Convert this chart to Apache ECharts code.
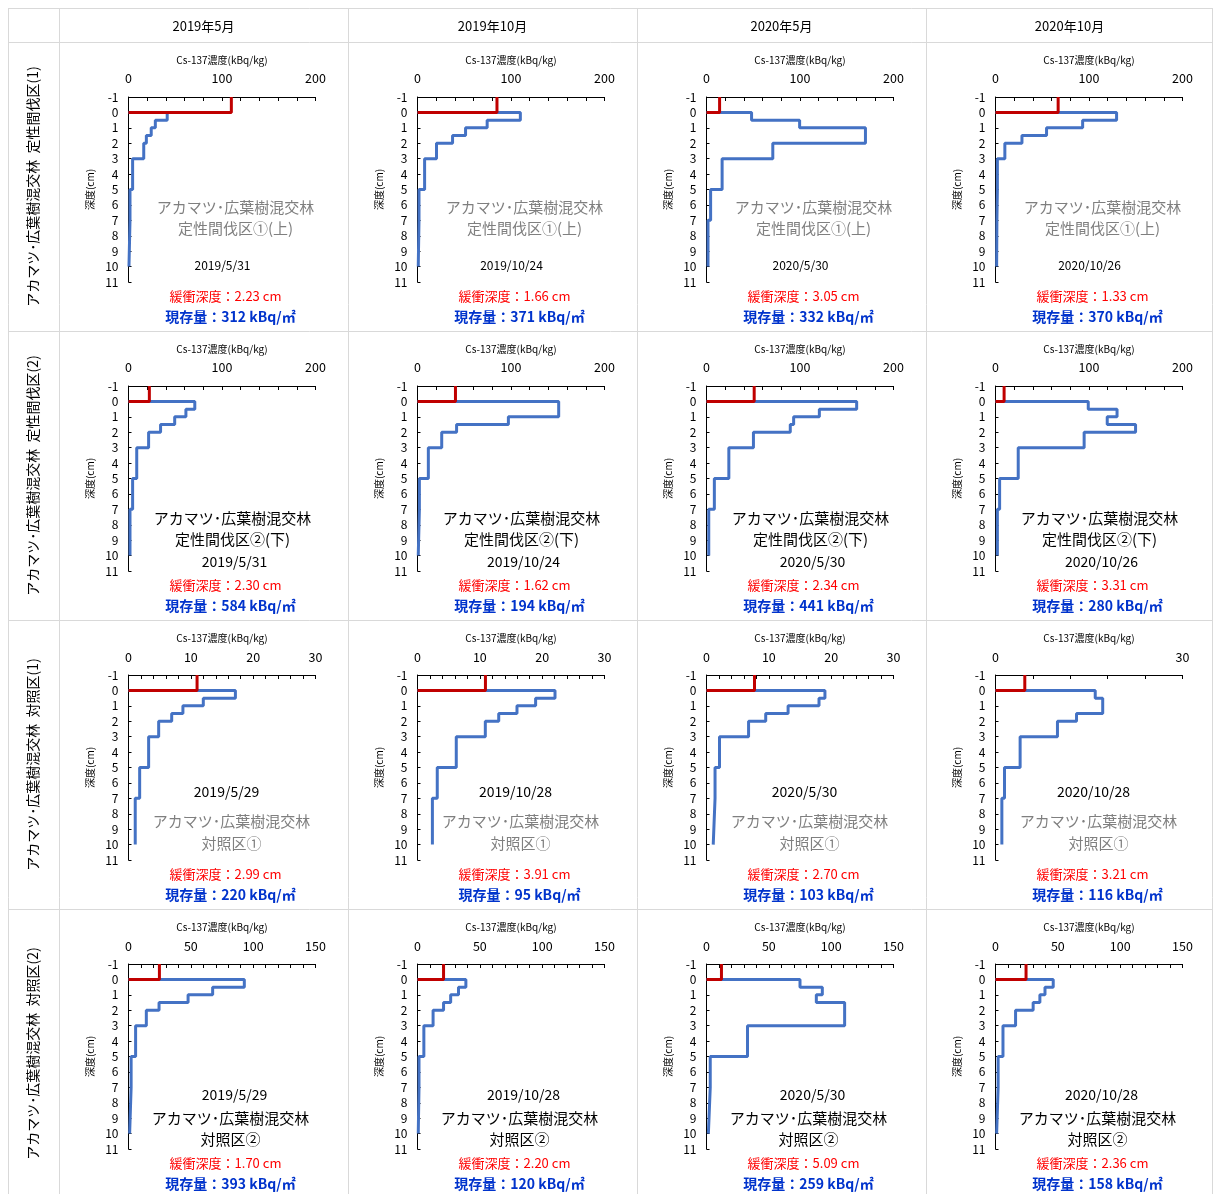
<!DOCTYPE html>
<html>
<head>
<meta charset="utf-8">
<script src="https://cdn.jsdelivr.net/npm/echarts@6/dist/echarts.min.js"></script>
<style>
html,body{margin:0;padding:0;background:#fff;}
#chart{width:1213px;height:1194px;}
</style>
</head>
<body>
<div id="chart"></div>
<script>
// ---------------- DATA ----------------
const columnHeaders = ['2019年5月', '2019年10月', '2020年5月', '2020年10月'];
const rowLabels = [
  'アカマツ･広葉樹混交林  定性間伐区(1)',
  'アカマツ･広葉樹混交林  定性間伐区(2)',
  'アカマツ･広葉樹混交林  対照区(1)',
  'アカマツ･広葉樹混交林  対照区(2)'
];
const siteLine1 = ['アカマツ･広葉樹混交林', 'アカマツ･広葉樹混交林', 'アカマツ･広葉樹混交林', 'アカマツ･広葉樹混交林'];
const siteLine2 = ['定性間伐区①(上)', '定性間伐区②(下)', '対照区①', '対照区②'];
const sampleDates = [
  ['2019/5/31', '2019/10/24', '2020/5/30', '2020/10/26'],
  ['2019/5/31', '2019/10/24', '2020/5/30', '2020/10/26'],
  ['2019/5/29', '2019/10/28', '2020/5/30', '2020/10/28'],
  ['2019/5/29', '2019/10/28', '2020/5/30', '2020/10/28']
];
const xAxisMax = [200, 200, 30, 150];
const xLabelStep = [
  [100, 100, 100, 100],
  [100, 100, 100, 100],
  [10, 10, 10, 30],
  [50, 50, 50, 50]
];
const xAxisTitle = 'Cs-137濃度(kBq/kg)';
const yAxisTitle = '深度(cm)';
const yMin = -1, yMax = 11;
// layer boundaries (cm)
const depthBounds = [0, 0.5, 1, 1.5, 2, 3, 5, 7, 10];
// litter / surface (red) concentration, kBq/kg
const litterRow1 = [110, 85, 14, 67];
const litterRow2 = [22.3, 40.6, 51, 9.2];
const litterRow3 = [11.0, 10.9, 7.7, 4.7];
const litterRow4 = [24.8, 20.9, 12.0, 24.5];
// soil layer concentration (blue) per layer 0-0.5,0.5-1,1-1.5,1.5-2,2-3,3-5,5-7,7-10
const soilRow1 = [
  [41.4, 28.7, 24.3, 19.1, 16.3, 4.4, 1.6, 0.5],
  [110, 74.5, 51.4, 37.5, 20.3, 7.6, 1.6, 0.8],
  [48.2, 99.6, 170, 170, 70.9, 16.7, 4.4, 1.6],
  [129.5, 93.2, 54.6, 28.3, 10, 2, 1.5, 1.2]
];
const soilRow2 = [
  [70.9, 61.4, 49.4, 34.3, 21.5, 8.8, 4.4, 1.6],
  [151, 151, 97.2, 41.8, 25.9, 11.6, 2, 0.8],
  [160.6, 120.7, 93.2, 89.6, 50.2, 23.9, 8.4, 2.4],
  [99.2, 130, 119.5, 149.8, 94.8, 24.3, 4.4, 2]
];
const soilRow3 = [
  [17.15, 12.0, 8.73, 6.93, 4.84, 3.23, 1.79, 1.08],
  [22.06, 18.95, 15.96, 13.03, 10.88, 6.22, 3.17, 2.39],
  [19.0, 18.05, 13.09, 9.5, 6.75, 2.09, 1.37, 1.08],
  [16.0, 17.2, 17.2, 13.0, 9.94, 3.95, 1.44, 1.02]
];
const soilRow4 = [
  [92.9, 67.5, 47.8, 24.5, 14.3, 5.7, 2.1, 0.9],
  [38.8, 32.9, 26.6, 20.9, 12.5, 5.1, 1.2, 0.6],
  [75.0, 92.9, 88.1, 110.8, 110.8, 32.9, 3.0, 1.5],
  [46.3, 39.7, 35.6, 30.2, 16.1, 6.0, 2.1, 0.9]
];
const bufferDepth = [
  ['2.23', '1.66', '3.05', '1.33'],
  ['2.30', '1.62', '2.34', '3.31'],
  ['2.99', '3.91', '2.70', '3.21'],
  ['1.70', '2.20', '5.09', '2.36']
];
const inventory = [
  [312, 371, 332, 370],
  [584, 194, 441, 280],
  [220, 95, 103, 116],
  [393, 120, 259, 158]
];

const litterRows = [litterRow1, litterRow2, litterRow3, litterRow4];
const soilRows = [soilRow1, soilRow2, soilRow3, soilRow4];

// ---------------- LAYOUT ----------------
const FONT = '"Noto Sans CJK JP", "Noto Sans", sans-serif';
const colLefts = [59, 348, 637, 926];
const rowTops = [42, 331, 620, 909];
const tableRight = 1213, tableTop = 8, tableLeft = 8, headerBottom = 42;
const plotW = 187, plotH = 185;

// per-row text placement (relative to plot origin)
const nameDx = [107, 104, 103, 102];
const nameDy = [[110, 131], [132, 153], [146, 168], [154, 175]];
const nameColor = ['#7f7f7f', '#000', '#7f7f7f', '#000'];
const dateDx = [94, 106, 98, 106];
const dateDy = [168, 176, 117, 131];
const dateSize = [12, 14, 14, 14];

const grids = [], xAxes = [], yAxes = [], series = [], graphics = [];

// table lines
const lc = '#d9d9d9';
function hline(y, x1, x2) { graphics.push({type: 'line', shape: {x1: x1, y1: y, x2: x2, y2: y}, style: {stroke: lc, lineWidth: 1}, silent: true}); }
function vline(x, y1, y2) { graphics.push({type: 'line', shape: {x1: x, y1: y1, x2: x, y2: y2}, style: {stroke: lc, lineWidth: 1}, silent: true}); }
hline(tableTop + 0.5, tableLeft, tableRight);
hline(headerBottom + 0.5, tableLeft, tableRight);
rowTops.slice(1).forEach(y => hline(y + 0.5, tableLeft, tableRight));
vline(tableLeft + 0.5, tableTop, 1194);
colLefts.forEach(x => vline(x + 0.5, tableTop, 1194));
vline(tableRight - 0.5, tableTop, 1194);

function txt(x, y, text, size, color, extra) {
  graphics.push(Object.assign({
    type: 'text', x: x, y: y, silent: true,
    style: {text: text, font: (extra && extra.bold ? 'bold ' : '') + size + 'px ' + FONT,
      fill: color, textAlign: 'center', textVerticalAlign: 'middle'}
  }, extra && extra.rotation ? {rotation: extra.rotation} : {}));
}

columnHeaders.forEach((h, c) => {
  const right = c < 3 ? colLefts[c + 1] : tableRight;
  txt((colLefts[c] + right) / 2, 26, h, 13, '#000');
});
rowLabels.forEach((t, r) => {
  txt(33, (rowTops[r] + (r < 3 ? rowTops[r + 1] : 1198)) / 2, t, 14, '#000', {rotation: Math.PI / 2});
});

let idx = 0;
for (let r = 0; r < 4; r++) {
  for (let c = 0; c < 4; c++) {
    const gx = colLefts[c] + 69.5;
    const gy = rowTops[r] + 55;
    const step = xLabelStep[r][c];
    grids.push({left: gx, top: gy, width: plotW, height: plotH, containLabel: false});
    xAxes.push({
      gridIndex: idx, type: 'value', position: 'top', min: 0, max: xAxisMax[r],
      interval: step / 5,
      name: xAxisTitle, nameLocation: 'middle', nameGap: 37,
      nameTextStyle: {fontSize: 10, color: '#000', fontFamily: FONT, verticalAlign: 'middle'},
      axisLine: {show: true, onZero: false, lineStyle: {color: '#000', width: 1}},
      axisTick: {show: true, inside: true, length: 4, lineStyle: {color: '#000', width: 1}},
      axisLabel: {
        fontSize: 12.5, color: '#000', fontFamily: FONT, margin: 12,
        formatter: function (v) {
          const q = v / step;
          return Math.abs(q - Math.round(q)) < 1e-6 ? String(Math.round(v)) : '';
        }
      },
      splitLine: {show: false}
    });
    yAxes.push({
      gridIndex: idx, type: 'value', inverse: true, min: yMin, max: yMax, interval: 1,
      name: yAxisTitle, nameLocation: 'middle', nameGap: 38, nameRotate: 90,
      nameTextStyle: {fontSize: 10, color: '#000', fontFamily: FONT, verticalAlign: 'middle'},
      axisLine: {show: true, onZero: false, lineStyle: {color: '#000', width: 1}},
      axisTick: {show: true, inside: true, length: 3, lineStyle: {color: '#000'}},
      axisLabel: {fontSize: 12, color: '#000', fontFamily: FONT, margin: 10},
      splitLine: {show: false}
    });
    // blue step profile
    const vals = soilRows[r][c];
    const pts = [[0, depthBounds[0]]];
    vals.forEach((v, i) => { pts.push([v, depthBounds[i]]); pts.push([v, depthBounds[i + 1]]); });
    series.push({
      type: 'line', xAxisIndex: idx, yAxisIndex: idx, data: pts, showSymbol: false, symbol: 'none',
      lineStyle: {color: '#4472C4', width: 3}, z: 2, animation: false, silent: true
    });
    const lv = litterRows[r][c];
    series.push({
      type: 'line', xAxisIndex: idx, yAxisIndex: idx, data: [[lv, -1], [lv, 0], [0, 0]],
      showSymbol: false, symbol: 'none',
      lineStyle: {color: '#C00000', width: 3}, z: 3, animation: false, silent: true
    });
    // annotations
    txt(gx + nameDx[r], gy + nameDy[r][0], siteLine1[r], 15, nameColor[r]);
    txt(gx + nameDx[r], gy + nameDy[r][1], siteLine2[r], 15, nameColor[r]);
    txt(gx + dateDx[r], gy + dateDy[r], sampleDates[r][c], dateSize[r], '#000');
    txt(gx + 97, gy + 199, '緩衝深度：' + bufferDepth[r][c] + ' cm', 13, '#FF0000');
    txt(gx + 102, gy + 220, '現存量：' + inventory[r][c] + ' kBq/㎡', 14, '#0033CC', {bold: true});
    idx++;
  }
}

const chart = echarts.init(document.getElementById('chart'), null, {renderer: 'canvas'});
chart.setOption({
  animation: false,
  backgroundColor: '#fff',
  textStyle: {fontFamily: FONT},
  grid: grids, xAxis: xAxes, yAxis: yAxes, series: series,
  graphic: graphics
});
</script>
</body>
</html>
